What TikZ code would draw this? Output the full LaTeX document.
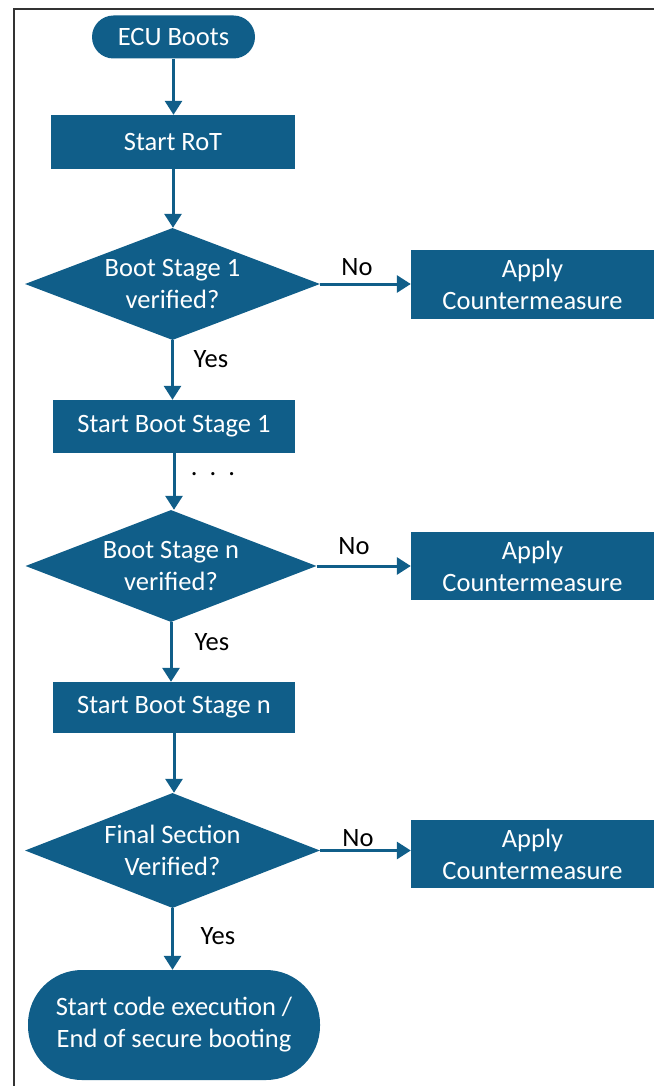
\documentclass[tikz,border=0pt]{standalone}
\usepackage{fontspec}
\setmainfont{Carlito}
\usetikzlibrary{shapes.geometric,arrows.meta}
\definecolor{boxblue}{RGB}{16,94,137}
\begin{document}
\begin{tikzpicture}[x=1pt,y=-1pt,
  every node/.style={font=\fontsize{26.5}{32}\selectfont},
  procbox/.style={fill=boxblue,text=white,draw=none,rectangle,align=center,inner sep=0pt},
  terminal/.style={fill=boxblue,text=white,draw=none,rectangle,align=center,inner sep=0pt},
  decision/.style={fill=boxblue,text=white,draw=none,diamond,aspect=2.63,inner sep=0pt,align=center},
  flow/.style={draw=boxblue,line width=3pt,-{Triangle[length=14pt,width=17pt]}},
  plainlabel/.style={text=black,inner sep=0pt}]
\useasboundingbox (0,0) rectangle (654,1086);
% frame edges
\draw[black!80,line width=1.3pt] (14,1086) -- (14,9) -- (654,9);

% main column
\node[terminal,rounded corners=21.5pt,minimum width=163pt,minimum height=43pt] (boot) at (173.5,37) {ECU Boots};
\node[procbox,minimum width=244pt,minimum height=54pt] (rot) at (173,142) {Start RoT};
\node[decision,minimum width=295pt,minimum height=112pt] (d1) at (172.5,284) {Boot Stage 1\\verified?};
\node[procbox,minimum width=242pt,minimum height=53pt] (s1) at (174,426.5) {Start Boot Stage 1};
\node[decision,minimum width=291pt,minimum height=112pt] (dn) at (171,566) {Boot Stage n\\verified?};
\node[procbox,minimum width=242pt,minimum height=51pt] (sn) at (174,707.5) {Start Boot Stage n};
\node[decision,minimum width=295pt,minimum height=115pt] (df) at (172.5,850.5) {Final Section\\Verified?};
\node[terminal,rounded corners=54pt,minimum width=292pt,minimum height=110pt] (fin) at (174,1025) {Start code execution /\\End of secure booting};

% countermeasure column
\node[procbox,minimum width=243pt,minimum height=69pt] (cm1) at (532.5,284.5) {Apply\\Countermeasure};
\node[procbox,minimum width=243pt,minimum height=68pt] (cm2) at (532.5,566) {Apply\\Countermeasure};
\node[procbox,minimum width=243pt,minimum height=68pt] (cm3) at (532.5,854) {Apply\\Countermeasure};

% connectors
\draw[flow] (boot.south) -- (boot.south |- rot.north);
\draw[flow] (rot.south) -- (rot.south |- d1.north);
\draw[flow] (d1.south) -- (d1.south |- s1.north);
\draw[flow] (s1.south) -- (s1.south |- dn.north);
\draw[flow] (dn.south) -- (dn.south |- sn.north);
\draw[flow] (sn.south) -- (sn.south |- df.north);
\draw[flow] (df.south) -- (df.south |- fin.north);
\draw[flow] (d1.east) -- (cm1.west |- d1.east);
\draw[flow] (dn.east) -- (cm2.west);
\draw[flow] (df.east) -- (cm3.west |- df.east);

% labels
\node[plainlabel] (no1) at (357,267) {No};
\node[plainlabel] (no2) at (354,546) {No};
\node[plainlabel] (no3) at (358,838) {No};
\node[plainlabel] (yes1) at (211,359) {Yes};
\node[plainlabel] (yes2) at (212,642) {Yes};
\node[plainlabel] (yes3) at (218,936) {Yes};
\node[plainlabel] (dots) at (213,474) {.\ \ .\ \ .};
\end{tikzpicture}
\end{document}
